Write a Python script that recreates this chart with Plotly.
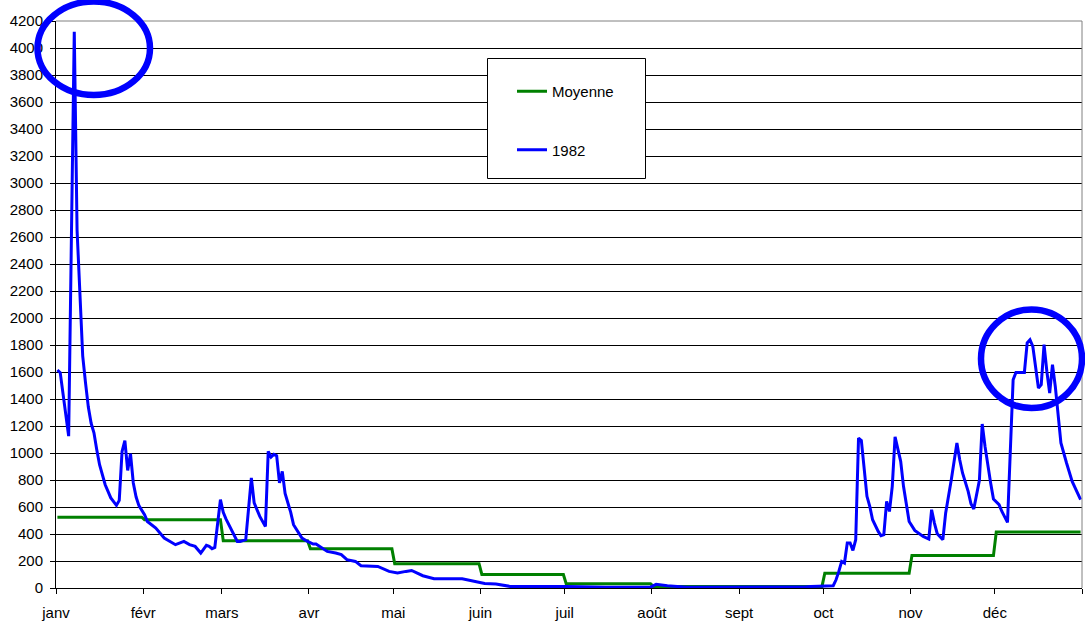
import pandas as pd
import plotly.graph_objects as go

# ---- data ----
mois_labels = ["janv", "févr", "mars", "avr", "mai", "juin", "juil", "août",
               "sept", "oct", "nov", "déc", ""]
moyenne_mensuelle = [525, 505, 350, 290, 180, 100, 32, 12, 12, 110, 240, 415]

# day index (0 = 1 Jan 1982) and flow for 1982
jours_1982 = [0, 1, 4, 6, 7, 8, 9, 10, 11, 12, 13, 14, 15, 17, 19, 21, 22, 23, 24, 25,
              26, 27, 28, 29, 31, 32, 35, 38, 40, 42, 45, 47, 49, 51, 53, 54, 55, 56, 58,
              59, 60, 62, 64, 65, 67, 69, 70, 72, 74, 75, 76, 77, 78, 79, 80, 81, 83, 84,
              86, 87, 89, 91, 92, 94, 96, 99, 101, 103, 106, 108, 114, 118, 121, 124, 126,
              130, 134, 144, 148, 152, 156, 161, 181, 195, 211, 213, 217, 223, 224, 266,
              268, 276, 277, 278, 279, 280, 281, 282, 283, 284, 285, 286, 287, 288, 289,
              290, 292, 293, 294, 295, 296, 297, 298, 300, 301, 302, 303, 305, 306, 308,
              310, 311, 312, 313, 315, 316, 318, 320, 321, 322, 324, 325, 326, 327, 328,
              329, 330, 332, 333, 335, 336, 338, 340, 341, 344, 345, 346, 347, 349, 350,
              351, 352, 353, 354, 355, 356, 357, 359, 361, 364]
debit_1982 = [1615, 1595, 1125, 4120, 2650, 2150, 1720, 1520, 1340, 1220, 1150, 1024, 913,
              765, 667, 612, 649, 1012, 1091, 871, 995, 778, 674, 610, 543, 493, 444, 370,
              345, 321, 345, 321, 308, 259, 316, 308, 291, 300, 655, 560, 510, 432, 345,
              345, 358, 815, 630, 530, 456, 1012, 970, 990, 980, 778, 864, 700, 560, 469,
              407, 370, 345, 326, 326, 296, 271, 259, 247, 210, 197, 165, 160, 123, 111,
              123, 130, 91, 69, 69, 54, 34, 30, 12, 12, 6, 6, 27, 17, 12, 6, 8,
              12, 17, 61, 123, 197, 185, 333, 333, 279, 358, 1111, 1093, 876, 679, 605,
              506, 419, 387, 395, 641, 567, 753, 1119, 938, 753, 605, 493, 427, 412, 382,
              363, 580, 481, 402, 358, 556, 802, 1074, 950, 852, 716, 624, 585, 691, 797,
              1215, 1049, 778, 659, 617, 567, 486, 1543, 1597, 1597, 1815, 1839, 1790, 1481,
              1506, 1802, 1604, 1444, 1654, 1493, 1284, 1074, 926, 790, 654]

y_ticks = list(range(0, 4201, 200))

# ---- build x values (points centred on each day) ----
year_start = pd.Timestamp("1982-01-01")
half = pd.Timedelta(hours=12)
month_starts = pd.date_range("1982-01-01", periods=13, freq="MS")

x_moy, y_moy = [], []
for i, v in enumerate(moyenne_mensuelle):
    first = month_starts[i] + half
    last = month_starts[i + 1] - pd.Timedelta(days=1) + half
    x_moy += [first, last]
    y_moy += [v, v]

x_1982 = [year_start + pd.Timedelta(days=d) + half for d in jours_1982]

FONT = "Arial, Liberation Sans, sans-serif"

fig = go.Figure()
fig.add_trace(go.Scatter(x=x_moy, y=y_moy, mode="lines", name="Moyenne",
                         legendgroup="a",
                         line=dict(color="#008000", width=3)))
fig.add_trace(go.Scatter(x=x_1982, y=debit_1982, mode="lines", name="1982",
                         legendgroup="b",
                         line=dict(color="#0000FF", width=3)))

W, H = 1085, 623
L, R, T, B = 56, 3, 21, 35
pw, ph = W - L - R, H - T - B


def px(x):
    return (x - L) / pw


def py(y):
    return (H - B - y) / ph


shapes = [
    # plot frame top / right (grey)
    dict(type="line", xref="paper", yref="paper", x0=0, x1=1, y0=1, y1=1,
         line=dict(color="#808080", width=1), layer="above"),
    dict(type="line", xref="paper", yref="paper", x0=1, x1=1, y0=0, y1=1,
         line=dict(color="#808080", width=1), layer="above"),
    # legend box
    dict(type="rect", xref="paper", yref="paper",
         x0=px(487.5), x1=px(645.5), y0=py(178.5), y1=py(58.5),
         line=dict(color="black", width=1), fillcolor="white", layer="above"),
    # highlight circles
    dict(type="circle", xref="paper", yref="paper",
         x0=px(37.5), x1=px(150), y0=py(95), y1=py(1.5),
         line=dict(color="#0000FF", width=6.5), layer="above"),
    dict(type="circle", xref="paper", yref="paper",
         x0=px(981), x1=px(1082), y0=py(408), y1=py(309.5),
         line=dict(color="#0000FF", width=6.5), layer="above"),
]

fig.update_layout(
    width=W, height=H,
    margin=dict(l=L, r=R, t=T, b=B, autoexpand=False),
    paper_bgcolor="white", plot_bgcolor="white",
    font=dict(family=FONT, size=15, color="black"),
    showlegend=True,
    legend=dict(x=px(512), y=py(75), xanchor="left", yanchor="top",
                bgcolor="rgba(0,0,0,0)", borderwidth=0,
                tracegroupgap=36, font=dict(family=FONT, size=15, color="black"),
                itemwidth=30),
    shapes=shapes,
    xaxis=dict(
        type="date", automargin=False,
        range=[month_starts[0], month_starts[-1]],
        tickmode="array", tickvals=list(month_starts), ticktext=mois_labels,
        ticks="outside", ticklen=5, tickcolor="black", tickwidth=1,
        showline=True, linecolor="black", linewidth=1,
        showgrid=False, zeroline=False,
        ticklabelstandoff=6,
        tickfont=dict(family=FONT, size=15, color="black"),
    ),
    yaxis=dict(
        range=[0, 4200], automargin=False,
        tickmode="array", tickvals=y_ticks, ticktext=[str(v) for v in y_ticks],
        ticks="outside", ticklen=5, tickcolor="black", tickwidth=1,
        showline=True, linecolor="black", linewidth=1,
        showgrid=True, gridcolor="black", gridwidth=1,
        zeroline=False,
        ticklabelstandoff=4,
        tickfont=dict(family=FONT, size=15, color="black"),
    ),
)

fig.write_html(
    "out.html",
    config={"responsive": False, "displayModeBar": False},
    post_script="document.body.style.margin='0';document.body.style.overflow='hidden';",
)
